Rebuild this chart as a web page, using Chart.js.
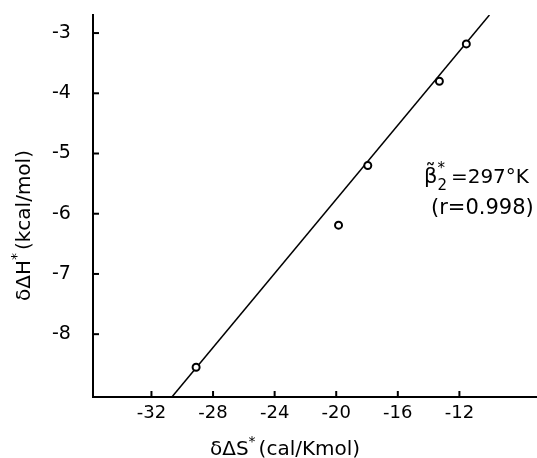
<!DOCTYPE html>
<html lang="en">
<head>
<meta charset="UTF-8">
<title>dH vs dS</title>
<script src="https://cdn.jsdelivr.net/npm/chart.js"></script>
<style>
    html, body { margin: 0; padding: 0; background: #fff; }
    canvas { display: block; }
</style>
</head>
<body>

<canvas id="myScatterChart" width="537" height="458"></canvas>

<script>
// measured points: δΔS* (cal/Kmol) against δΔH* (kcal/mol)
var entropyValues = [-29.1, -19.85, -17.95, -13.3, -11.55];
var enthalpyValues = [-8.55, -6.19, -5.2, -3.8, -3.18];

// ends of the fitted straight line
var fitX = [-30.7, -10.05];
var fitY = [-9.05, -2.7];

var xTickValues = [-32, -28, -24, -20, -16, -12];
var yTickValues = [-3, -4, -5, -6, -7, -8];

var fontFamily = '"DejaVu Sans", sans-serif';

var pointData = entropyValues.map(function (x, i) { return { x: x, y: enthalpyValues[i] }; });
var lineData = fitX.map(function (x, i) { return { x: x, y: fitY[i] }; });

// tick marks pointing into the plot, plus titles and the note
var extrasPlugin = {
    id: 'extras',
    afterDraw: function (chart) {
        var ctx = chart.ctx;
        var xs = chart.scales.x, ys = chart.scales.y;
        var area = chart.chartArea;
        var axisY = Math.round(xs.top - 1) + 1;
        var axisX = Math.round(ys.right - 1) + 1;
        ctx.save();
        ctx.strokeStyle = '#000';
        ctx.lineWidth = 2;
        // bottom axis runs on to the edge of the picture
        ctx.beginPath();
        ctx.moveTo(area.right - 4, axisY);
        ctx.lineTo(chart.width, axisY);
        ctx.stroke();
        xTickValues.forEach(function (v) {
            var px = xs.getPixelForValue(v);
            ctx.beginPath();
            ctx.moveTo(px, axisY);
            ctx.lineTo(px, axisY - 6);
            ctx.stroke();
        });
        yTickValues.forEach(function (v) {
            var py = ys.getPixelForValue(v);
            ctx.beginPath();
            ctx.moveTo(axisX, py);
            ctx.lineTo(axisX + 6, py);
            ctx.stroke();
        });

        ctx.fillStyle = '#000';
        ctx.textBaseline = 'alphabetic';

        // x axis title
        drawPieces(ctx, 210, 455, [['δΔS', 20, 0, 0], ['*', 14, -9, 3], ['(cal/Kmol)', 20, 0, 0]]);

        // y axis title, rotated
        ctx.save();
        ctx.translate(30, 301);
        ctx.rotate(-Math.PI / 2);
        drawPieces(ctx, 0, 0, [['δΔH', 20, 0, 0], ['*', 14, -9, 3], ['(kcal/mol)', 20, 0, 0]]);
        ctx.restore();

        // note
        drawPieces(ctx, 424, 183, [['β\u0303', 21, 0, 0], ['2', 15, 7, -999], ['*', 15, -10, 6], ['=297°K', 20, 0, 0]]);
        drawPieces(ctx, 431, 214, [['(r=0.998)', 21, 0, 0]]);
        ctx.restore();
    }
};

// each piece: text, font size, baseline shift, extra advance (-999 = no advance)
function drawPieces(ctx, x, y, pieces) {
    var cx = x;
    pieces.forEach(function (p) {
        ctx.font = p[1] + 'px ' + fontFamily;
        ctx.fillText(p[0], cx, y + p[2]);
        if (p[3] !== -999) cx += ctx.measureText(p[0]).width + p[3];
    });
}

var ctxScatter = document.getElementById('myScatterChart').getContext('2d');
var myScatterChart = new Chart(ctxScatter, {
    type: 'scatter',
    data: {
        datasets: [{
            data: pointData,
            pointRadius: 3.5,
            pointBorderWidth: 2,
            pointBorderColor: '#000',
            pointBackgroundColor: '#fff',
            showLine: false,
            order: 0
        }, {
            data: lineData,
            showLine: true,
            borderColor: '#000',
            borderWidth: 1.5,
            pointRadius: 0,
            order: 1
        }]
    },
    options: {
        responsive: false,
        animation: false,
        layout: { padding: { left: 50, right: 0, top: 15, bottom: 34 } },
        plugins: {
            legend: { display: false },
            tooltip: { enabled: false }
        },
        scales: {
            x: {
                type: 'linear',
                min: -35.8,
                max: -7.35,
                afterBuildTicks: function (s) { s.ticks = xTickValues.map(function (v) { return { value: v }; }); },
                ticks: { padding: 0, color: '#000', maxRotation: 0, font: { family: fontFamily, size: 18 } },
                grid: { display: true, drawOnChartArea: false, drawTicks: true, tickLength: 5, tickColor: 'rgba(0,0,0,0)' },
                border: { display: true, color: '#000', width: 2 }
            },
            y: {
                type: 'linear',
                min: -9.05,
                max: -2.7,
                afterBuildTicks: function (s) { s.ticks = yTickValues.map(function (v) { return { value: v }; }); },
                ticks: { padding: 2, color: '#000', font: { family: fontFamily, size: 19 } },
                grid: { display: true, drawOnChartArea: false, drawTicks: true, tickLength: 20, tickColor: 'rgba(0,0,0,0)' },
                border: { display: true, color: '#000', width: 2 }
            }
        }
    },
    plugins: [extrasPlugin]
});
</script>

</body>
</html>
